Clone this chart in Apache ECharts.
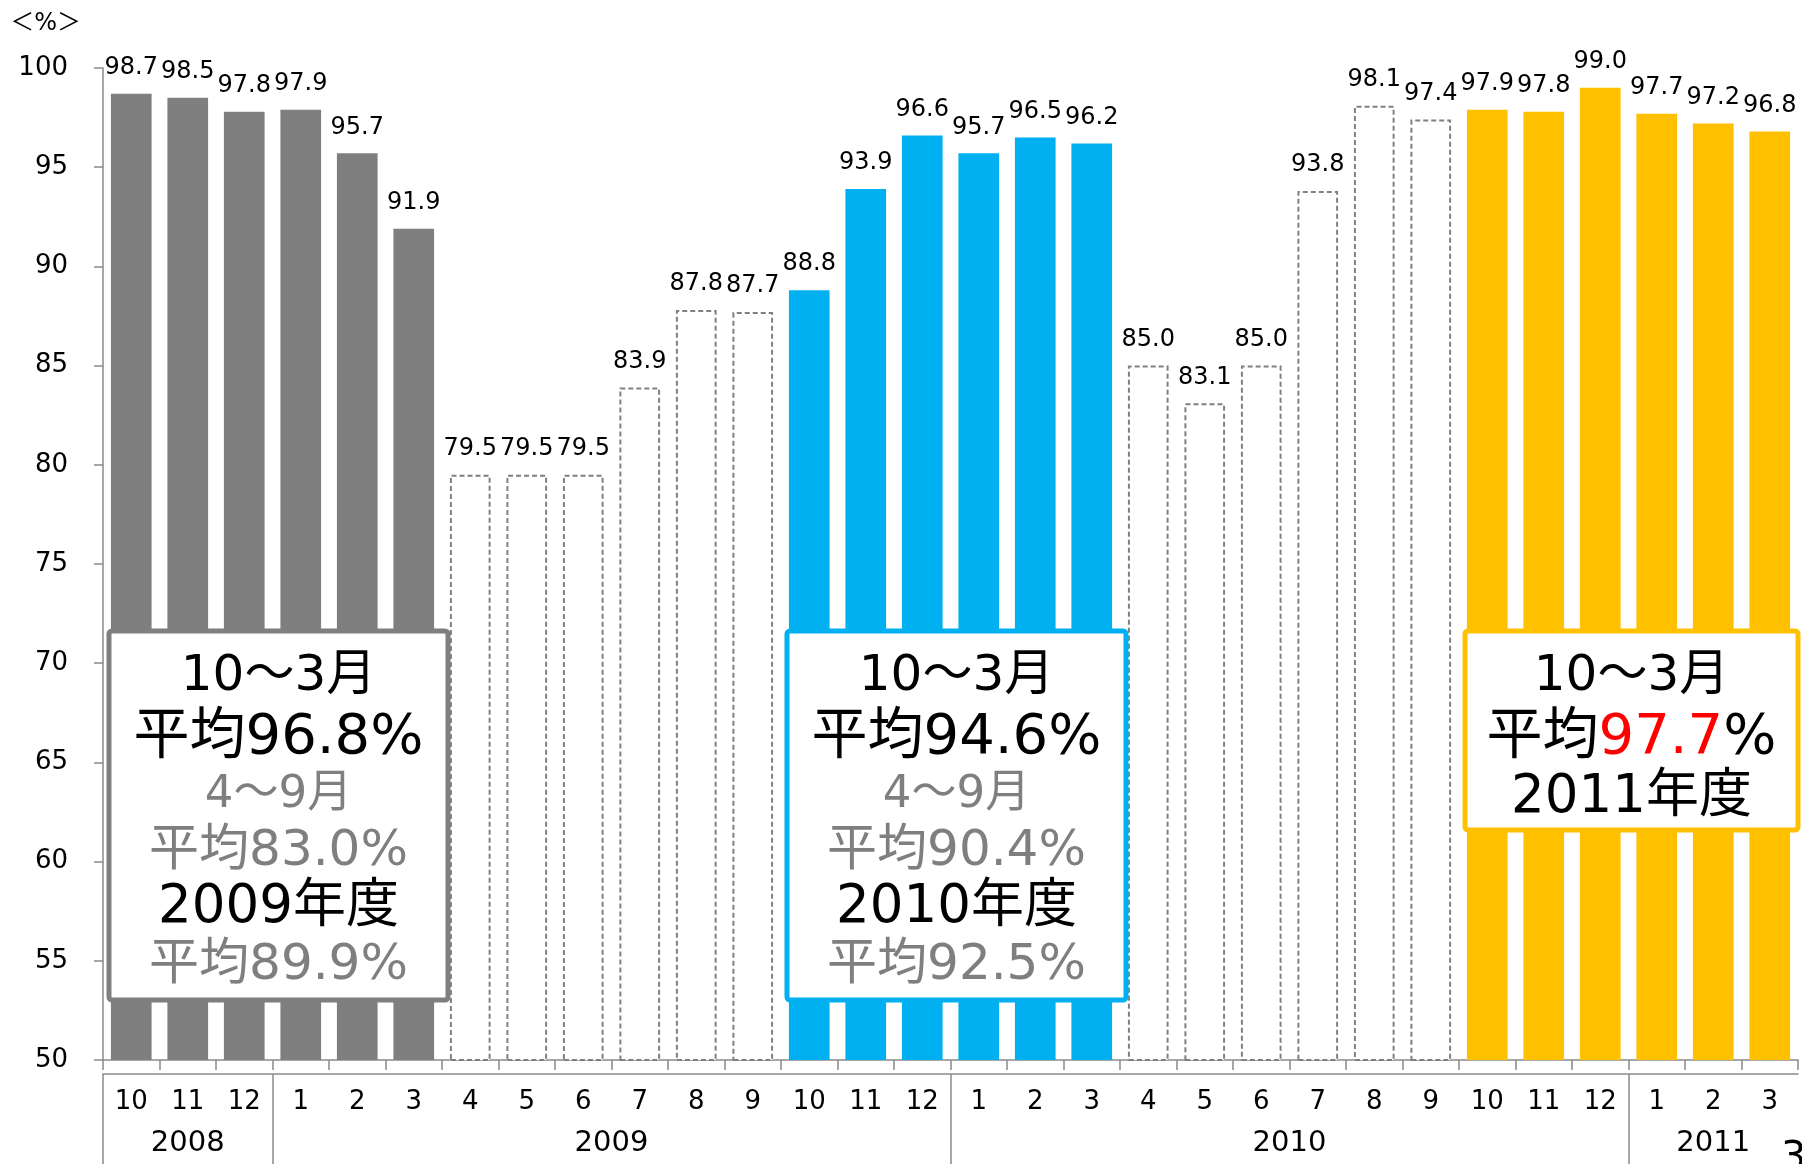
<!DOCTYPE html>
<html>
<head>
<meta charset="utf-8">
<script src="https://cdn.jsdelivr.net/npm/echarts@6/dist/echarts.min.js"></script>
<style>
  html, body { margin: 0; padding: 0; background: #fff; }
  #chart { width: 1802px; height: 1164px; }
</style>
</head>
<body>
<div id="chart"></div>
<script>
// Monthly rate (%) from Oct 2008 to Mar 2011
const months = ['10','11','12','1','2','3','4','5','6','7','8','9',
                '10','11','12','1','2','3','4','5','6','7','8','9',
                '10','11','12','1','2','3'];
const rates = [98.7, 98.5, 97.8, 97.9, 95.7, 91.9,
               79.5, 79.5, 79.5, 83.9, 87.8, 87.7,
               88.8, 93.9, 96.6, 95.7, 96.5, 96.2,
               85.0, 83.1, 85.0, 93.8, 98.1, 97.4,
               97.9, 97.8, 99.0, 97.7, 97.2, 96.8];
// Calendar years and the number of months each covers on the axis
const years = ['2008', '2009', '2010', '2011'];
const yearMonthCounts = [3, 12, 12, 3];
// Half-year periods: which months belong to the Oct–Mar halves
const periodKinds = ['octMar', 'aprSep', 'octMar', 'aprSep', 'octMar'];
const periodLength = 6;
const yTicks = [50, 55, 60, 65, 70, 75, 80, 85, 90, 95, 100];

// Summary boxes, one per Oct–Mar half
const summaries = [
  { octMar: '96.8', aprSep: '83.0', fyLabel: '2009年度', fyAvg: '89.9' },
  { octMar: '94.6', aprSep: '90.4', fyLabel: '2010年度', fyAvg: '92.5' },
  { octMar: '97.7', fyLabel: '2011年度' }
];

const FONT = '"DejaVu Sans", "Noto Sans CJK JP", sans-serif';
const AXIS_GREY = '#8a8a8a';
const halfColors = ['#7f7f7f', '#00b0f0', '#ffc000'];

// bar styling by half-year period
function barItem(v, i) {
  const p = Math.floor(i / periodLength);
  if (periodKinds[p] === 'aprSep') {
    return {
      value: v,
      itemStyle: { color: '#ffffff', borderColor: '#808080', borderWidth: 2,
                   borderType: [5, 3] }
    };
  }
  return { value: v, itemStyle: { color: halfColors[p / 2] } };
}

// year group boundaries and label centres on a 0..N month scale
const yearBounds = [];
const yearCentres = [];
let acc = 0;
yearMonthCounts.forEach(n => { yearBounds.push(acc); yearCentres.push(acc + n / 2); acc += n; });

const chart = echarts.init(document.getElementById('chart'), null, { renderer: 'canvas' });

const gridLeft = 103, gridRight = 4, gridTop = 68, gridBottom = 104;

const option = {
  animation: false,
  backgroundColor: '#ffffff',
  textStyle: { fontFamily: FONT },
  grid: { left: gridLeft, right: gridRight, top: gridTop, bottom: gridBottom, containLabel: false },
  xAxis: [
    {
      type: 'category',
      data: months,
      boundaryGap: true,
      axisLine: { onZero: false, lineStyle: { color: AXIS_GREY, width: 1.5 } },
      axisTick: { show: true, length: 10, lineStyle: { color: AXIS_GREY, width: 1.5 } },
      axisLabel: { fontSize: 26, color: '#000', margin: 29, fontFamily: FONT, interval: 0 },
      splitLine: { show: false }
    },
    {
      type: 'value',
      min: 0,
      max: months.length,
      position: 'bottom',
      offset: 14,
      axisLine: { show: true, onZero: false, lineStyle: { color: AXIS_GREY, width: 1.5 } },
      axisTick: { show: true, customValues: yearBounds, length: 100,
                  lineStyle: { color: AXIS_GREY, width: 1.5 } },
      axisLabel: {
        customValues: yearCentres,
        formatter: v => years[yearCentres.indexOf(v)] || '',
        fontSize: 29, color: '#000', margin: 55, fontFamily: FONT
      },
      splitLine: { show: false }
    }
  ],
  yAxis: {
    type: 'value',
    min: yTicks[0],
    max: yTicks[yTicks.length - 1],
    interval: 5,
    name: '＜%＞',
    nameLocation: 'end',
    nameGap: 32,
    nameTextStyle: { fontSize: 24, color: '#000', align: 'right', padding: [0, 22, 0, 0], fontFamily: FONT },
    axisLine: { show: true, lineStyle: { color: AXIS_GREY, width: 1.5 } },
    axisTick: { show: true, length: 9, lineStyle: { color: AXIS_GREY, width: 1.5 } },
    axisLabel: { fontSize: 26, color: '#000', margin: 35, fontFamily: FONT },
    splitLine: { show: false }
  },
  series: [{
    type: 'bar',
    xAxisIndex: 0,
    yAxisIndex: 0,
    data: rates.map(barItem),
    barWidth: '72%',
    label: {
      show: true,
      position: 'top',
      distance: 14,
      fontSize: 24,
      color: '#000',
      fontFamily: FONT,
      formatter: p => p.value.toFixed(1)
    }
  }]
};

chart.setOption(option);

// Summary boxes laid over the Oct–Mar bars
const catW = (1802 - gridLeft - gridRight) / months.length;
const boxTop = 631;
const graphics = [];

function addBox(startCat, height, color, lines) {
  const x0 = gridLeft + startCat * catW + 6;
  const x1 = Math.min(gridLeft + (startCat + periodLength) * catW + 6, 1798);
  const cx = (x0 + x1) / 2;
  graphics.push({
    type: 'rect', z: 100,
    shape: { x: x0, y: boxTop, width: x1 - x0, height: height, r: 3 },
    style: { fill: '#ffffff', stroke: color, lineWidth: 5 }
  });
  lines.forEach(ln => {
    graphics.push({
      type: 'text', z: 101,
      x: cx, y: boxTop + ln.dy,
      style: {
        text: ln.text, rich: ln.rich,
        fontSize: ln.size, fill: ln.color, fontFamily: FONT,
        align: 'center', verticalAlign: 'middle'
      }
    });
  });
}

const GREY_TXT = '#7f7f7f';
[0, 1].forEach(k => {
  const s = summaries[k];
  addBox(k * 12, 369, halfColors[k], [
    { text: '10～3月', size: 50, color: '#000', dy: 46 },
    { text: '平均' + s.octMar + '%', size: 56, color: '#000', dy: 107 },
    { text: '4～9月', size: 45, color: GREY_TXT, dy: 164 },
    { text: '平均' + s.aprSep + '%', size: 50, color: GREY_TXT, dy: 221 },
    { text: s.fyLabel, size: 53, color: '#000', dy: 277 },
    { text: '平均' + s.fyAvg + '%', size: 50, color: GREY_TXT, dy: 335 }
  ]);
});
const s3 = summaries[2];
addBox(24, 199, halfColors[2], [
  { text: '10～3月', size: 50, color: '#000', dy: 46 },
  { text: '{b|平均}{r|' + s3.octMar + '}{b|%}', size: 56, color: '#000', dy: 107,
    rich: { b: { fontSize: 56, fill: '#000', fontFamily: FONT },
            r: { fontSize: 56, fill: '#ff0000', fontFamily: FONT } } },
  { text: s3.fyLabel, size: 53, color: '#000', dy: 167 }
]);

// page number at the lower right corner
graphics.push({
  type: 'text', z: 101, x: 1781, y: 1140,
  style: { text: '3', fontSize: 40, fill: '#000', fontFamily: FONT }
});

chart.setOption({ graphic: graphics });
</script>
</body>
</html>
